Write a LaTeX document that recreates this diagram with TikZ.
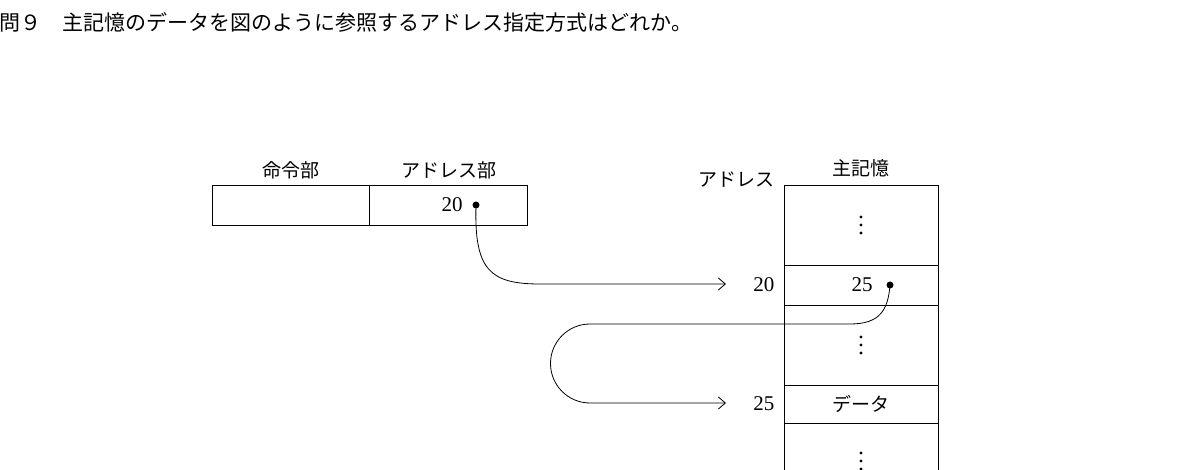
\documentclass[tikz,border=0pt]{standalone}
\usepackage{fontspec}
\newfontfamily\cjk{Noto Sans CJK JP}
\newfontfamily\numf{Liberation Serif}
\usetikzlibrary{arrows.meta, positioning}
\tikzset{
    cell/.style={draw, thick, minimum height=40pt, inner sep=0pt},
    lbl/.style={font=\cjk\fontsize{19}{19}\selectfont},
    num/.style={font=\numf\fontsize{21}{21}\selectfont},
    link/.style={thick, -{Straight Barb[length=7pt,width=12pt]}}
}
\begin{document}
\begin{tikzpicture}[x=1pt,y=-1pt]
    \useasboundingbox (0,0) rectangle (1180,470);
    \clip (0,0) rectangle (1180,470);

    % question
    \node[anchor=west, font=\cjk\fontsize{21}{21}\selectfont] (q) at (-4,22) {問９\quad 主記憶のデータを図のように参照するアドレス指定方式はどれか。};

    % instruction
    \node[cell, minimum width=157pt] (op) at (290.5,205) {};
    \node[cell, minimum width=158pt, right=0pt of op] (ad) {};
    \node[lbl, above=2pt of op] (opl) {命令部};
    \node[lbl, above=2pt of ad] (adl) {アドレス部};
    \node[num] (v1) at (452,205) {20};
    \fill (476,205) circle (3.5pt) coordinate (d1);

    % main memory
    \draw[thick] (784,470) -- (784,185) -- (938,185) -- (938,470);
    \foreach \y in {265,305,385,423} \draw[thick] (784,\y) -- (938,\y);
    \node[lbl] (mem) at (861,168) {主記憶};
    \node[lbl, anchor=east] (addr) at (778,180) {アドレス};
    \foreach \y in {225,345,461}
        \foreach \d in {-8,0,8} \fill (861,\y+\d) circle (1.6pt);
    \node[num] (m1) at (862,285) {25};
    \fill (890,285) circle (3.5pt) coordinate (d2);
    \node[lbl] (data) at (861,404) {データ};
    \node[num, anchor=east] (a20) at (778,285) {20};
    \node[num, anchor=east] (a25) at (778,404) {25};
    \coordinate (e1) at (726,284);
    \coordinate (e2) at (726,403);

    % arrows
    \draw[link] (d1) .. controls (474,270) and (490,284) .. (540,284) -- (e1);
    \draw[link] (d2) .. controls (888,310) and (880,324) .. (850,324) -- (590,324)
        arc[start angle=-90, end angle=-270, radius=39.5] -- (e2);
\end{tikzpicture}
\end{document}
